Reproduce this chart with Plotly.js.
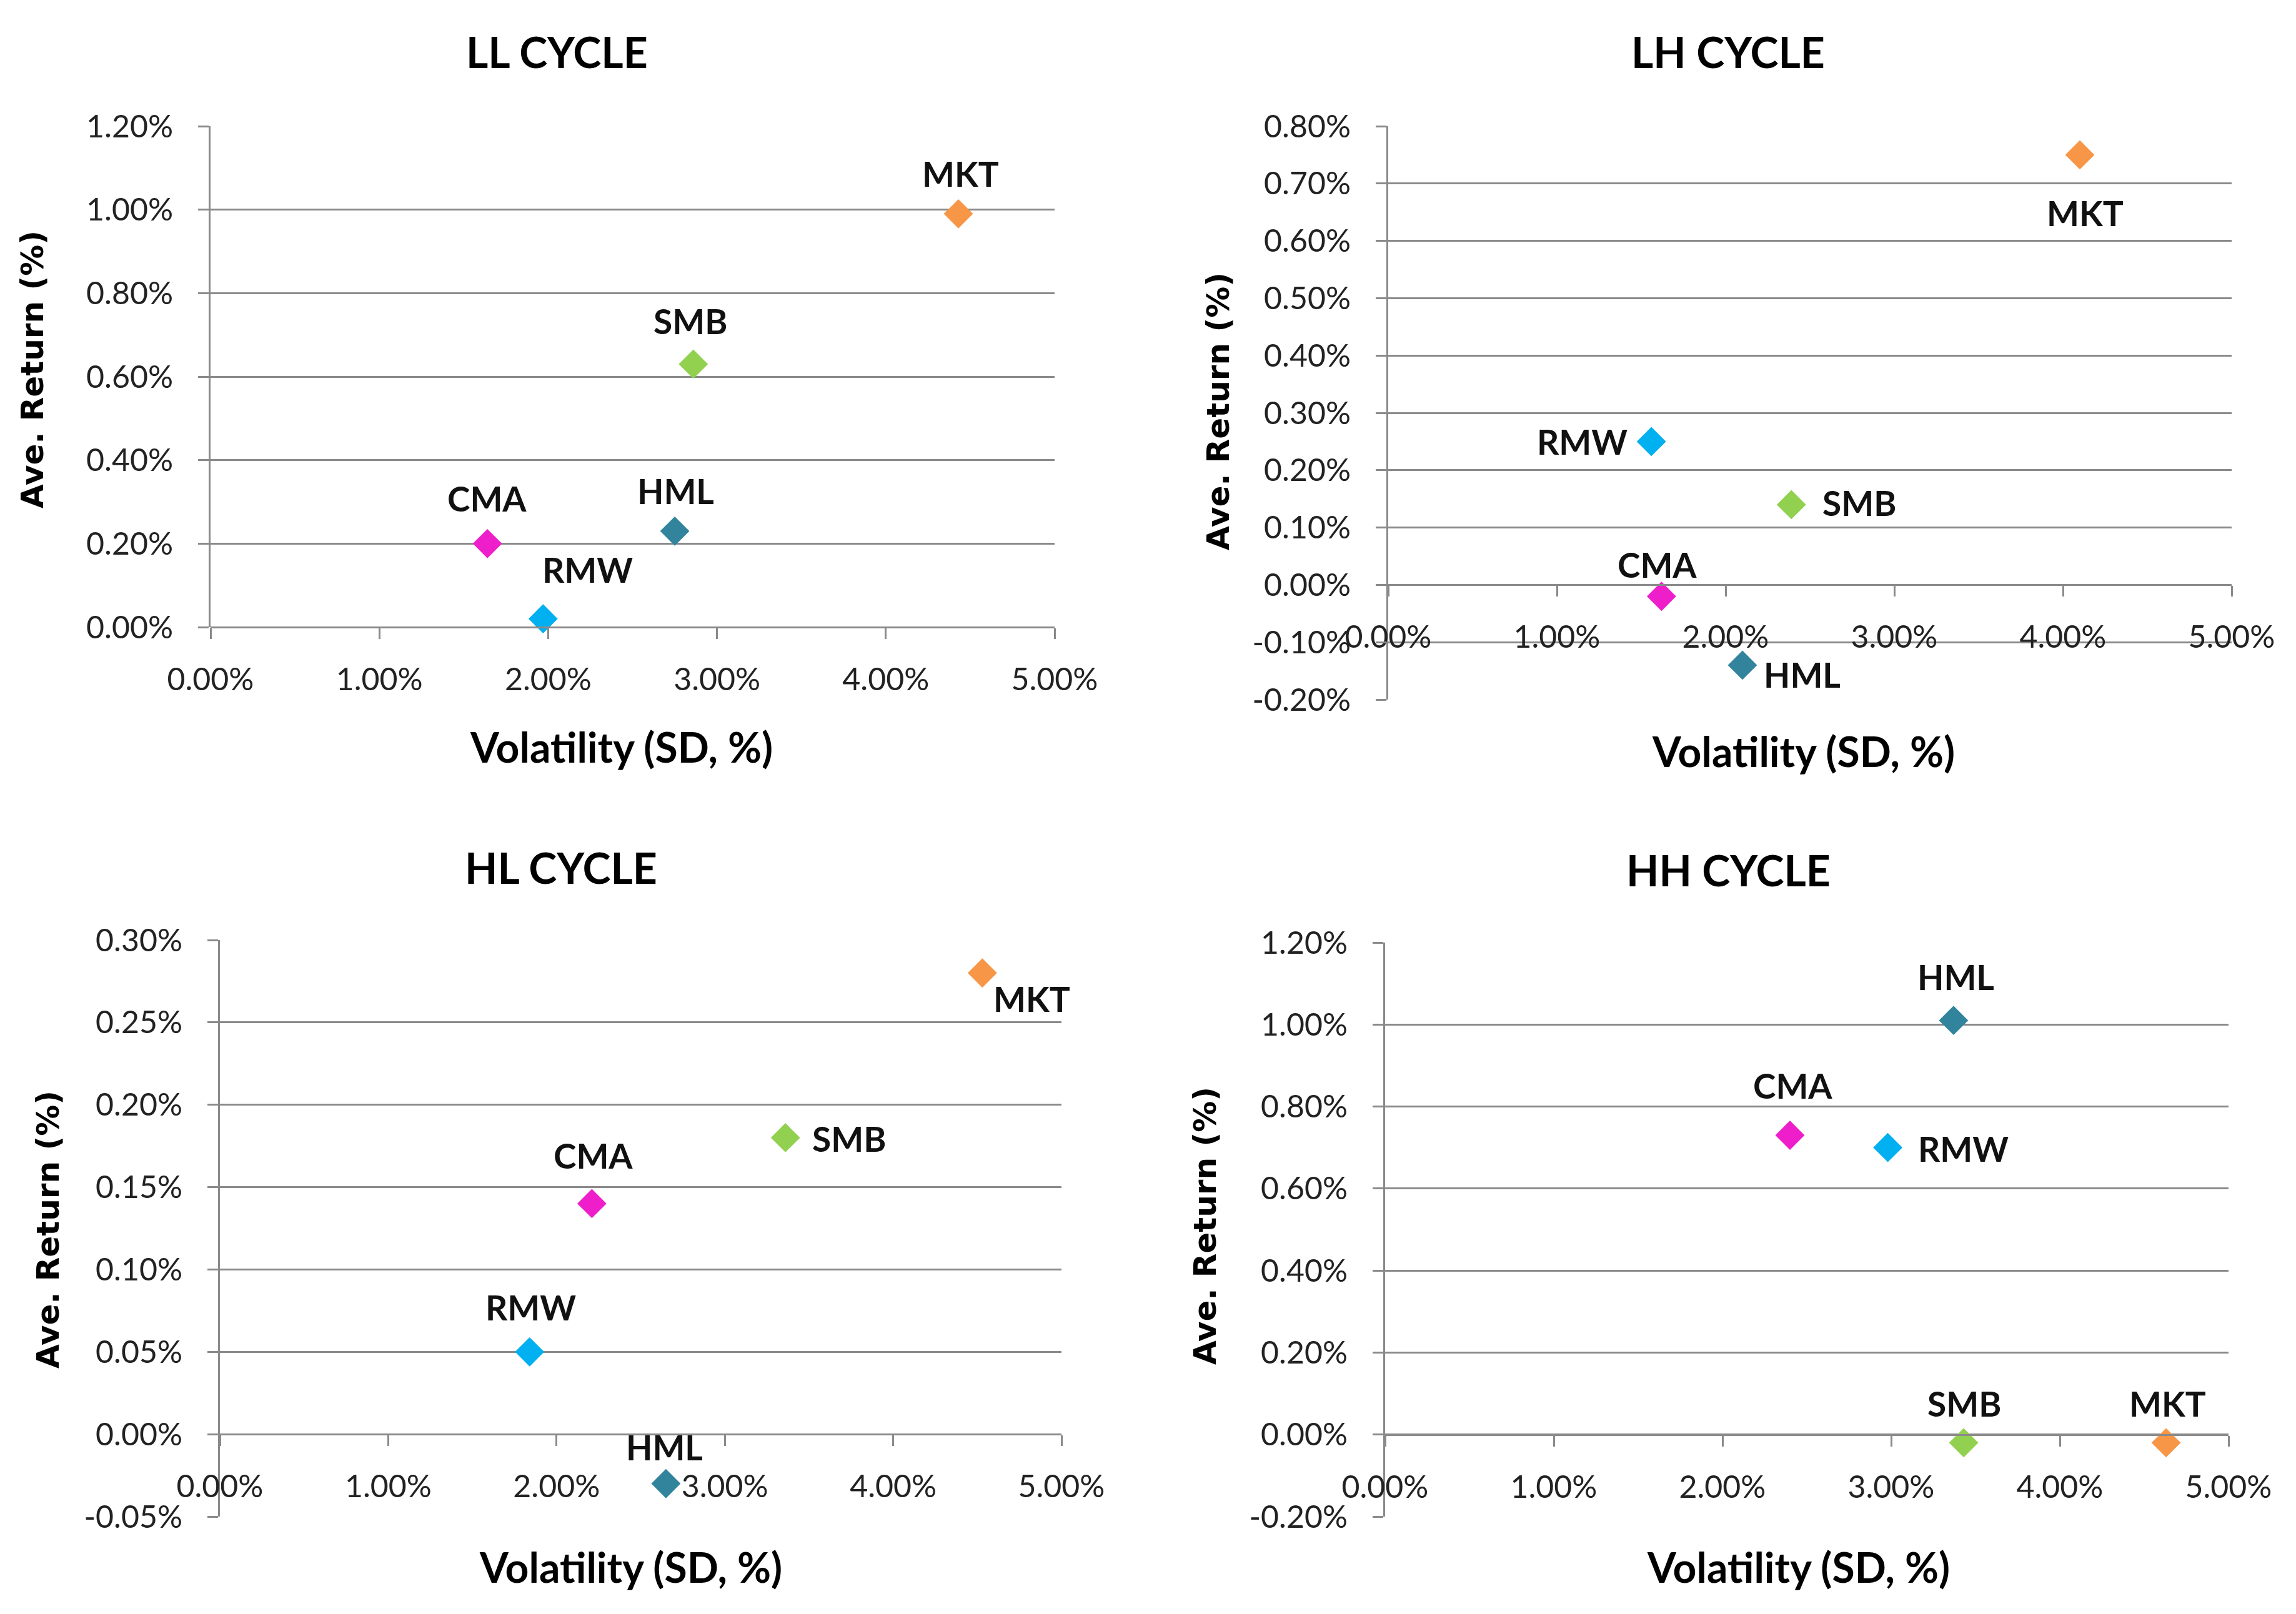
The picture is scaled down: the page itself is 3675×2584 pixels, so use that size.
<!DOCTYPE html>
<html>
<head>
<meta charset="utf-8">
<script src="https://cdn.plot.ly/plotly-3.0.1.min.js"></script>
<style>html,body{margin:0;padding:0;background:#fff;}#chart{width:3675px;height:2584px;}</style>
</head>
<body>
<div id="chart"></div>
<script>
// ---- data ----
const factors = ['MKT', 'SMB', 'HML', 'CMA', 'RMW'];

const LL_vol = [4.43, 2.86, 2.75, 1.64, 1.97];
const LL_ret = [0.99, 0.63, 0.23, 0.20, 0.02];

const LH_vol = [4.10, 2.39, 2.10, 1.62, 1.56];
const LH_ret = [0.75, 0.14, -0.14, -0.02, 0.25];

const HL_vol = [4.53, 3.36, 2.65, 2.21, 1.84];
const HL_ret = [0.28, 0.18, -0.03, 0.14, 0.05];

const HH_vol = [4.63, 3.43, 3.37, 2.40, 2.98];
const HH_ret = [-0.02, -0.02, 1.01, 0.73, 0.70];

const x_ticks = [0, 1, 2, 3, 4, 5];
const x_ticklabels = ['0.00%', '1.00%', '2.00%', '3.00%', '4.00%', '5.00%'];

const LL_yticks = [0, 0.2, 0.4, 0.6, 0.8, 1.0, 1.2];
const LL_yticklabels = ['0.00%', '0.20%', '0.40%', '0.60%', '0.80%', '1.00%', '1.20%'];
const LH_yticks = [-0.2, -0.1, 0, 0.1, 0.2, 0.3, 0.4, 0.5, 0.6, 0.7, 0.8];
const LH_yticklabels = ['-0.20%', '-0.10%', '0.00%', '0.10%', '0.20%', '0.30%', '0.40%', '0.50%', '0.60%', '0.70%', '0.80%'];
const HL_yticks = [-0.05, 0, 0.05, 0.10, 0.15, 0.20, 0.25, 0.30];
const HL_yticklabels = ['-0.05%', '0.00%', '0.05%', '0.10%', '0.15%', '0.20%', '0.25%', '0.30%'];
const HH_yticks = [-0.2, 0, 0.2, 0.4, 0.6, 0.8, 1.0, 1.2];
const HH_yticklabels = ['-0.20%', '0.00%', '0.20%', '0.40%', '0.60%', '0.80%', '1.00%', '1.20%'];

const panelTitles = ['LL CYCLE', 'LH CYCLE', 'HL CYCLE', 'HH CYCLE'];
const xTitle = 'Volatility (SD, %)';
const yTitle = 'Ave. Return (%)';

// ---- style ----
const factorColors = ['#F79646', '#92D050', '#31849B', '#EE1FCB', '#00B0F0'];
const W = 3675, H = 2584;
const gridC = '#8A8A8A';
const tickFont = {family: 'Lato, sans-serif', size: 50, color: '#222'};
const labelFont = {family: 'Lato, sans-serif', size: 55, color: '#111', weight: 700};

// panel geometry in pixels: [left, right, top, bottom]
const geo = [
  [337, 1688, 202, 1004],
  [2222, 3572, 202, 1120],
  [352, 1699, 1505, 2428],
  [2217, 3567, 1509, 2428]
];
const titlePos = [[891, 82], [2766, 82], [898, 1388], [2766, 1392]];
const yTitlePos = [[52, 592], [1950, 659], [77, 1969], [1929, 1962]];
const xTitlePos = [[994, 1195], [2886, 1202], [1010, 2508], [2878, 2508]];

// label offsets (pixels) from marker centre: [dx, dy] with dy downward
const panels = [
  {vol: LL_vol, ret: LL_ret, yt: LL_yticks, ytl: LL_yticklabels,
   off: [[4, -64], [-5, -69], [1, -64], [-1, -72], [71, -79]]},
  {vol: LH_vol, ret: LH_ret, yt: LH_yticks, ytl: LH_yticklabels,
   off: [[8, 93], [109, -3], [95, 15], [-7, -51], [-111, 0]]},
  {vol: HL_vol, ret: HL_ret, yt: HL_yticks, ytl: HL_yticklabels,
   off: [[79, 41], [102, 2], [-2, -58], [2, -77], [2, -71]]},
  {vol: HH_vol, ret: HH_ret, yt: HH_yticks, ytl: HH_yticklabels,
   off: [[2, -63], [1, -63], [4, -70], [4, -80], [121, 2]]}
];

const traces = [];
const layout = {
  width: W, height: H,
  margin: {l: 0, r: 0, t: 0, b: 0},
  paper_bgcolor: '#fff', plot_bgcolor: '#fff',
  showlegend: false,
  annotations: []
};

panels.forEach((p, i) => {
  const n = i === 0 ? '' : String(i + 1);
  const g = geo[i];
  const xd = [g[0] / W, g[1] / W];
  const yd = [1 - g[3] / H, 1 - g[2] / H];
  const ymin = p.yt[0], ymax = p.yt[p.yt.length - 1];
  const zeroPos = yd[0] + (0 - ymin) / (ymax - ymin) * (yd[1] - yd[0]);

  traces.push({
    type: 'scatter', mode: 'markers',
    x: p.vol, y: p.ret, text: factors,
    cliponaxis: false,
    marker: {symbol: 'diamond', size: 36, color: factorColors, line: {width: 0}},
    xaxis: 'x' + n, yaxis: 'y' + n, hoverinfo: 'skip'
  });

  factors.forEach((f, j) => {
    layout.annotations.push({
      text: '<b>' + f + '</b>', xref: 'x' + n, yref: 'y' + n,
      x: p.vol[j], y: p.ret[j],
      xshift: p.off[j][0], yshift: -p.off[j][1],
      xanchor: 'center', yanchor: 'middle', showarrow: false,
      font: labelFont
    });
  });

  layout['xaxis' + n] = {
    domain: xd, range: [0, 5],
    anchor: 'free', position: zeroPos,
    tickmode: 'array', tickvals: x_ticks, ticktext: x_ticklabels,
    showgrid: false, zeroline: false,
    showline: true, linecolor: gridC, linewidth: 3,
    ticks: 'outside', ticklen: 17, tickwidth: 3, tickcolor: gridC,
    tickfont: tickFont, ticklabelstandoff: 22,
    fixedrange: true
  };
  layout['yaxis' + n] = {
    domain: yd, range: [ymin, ymax],
    anchor: 'x' + n,
    tickmode: 'array', tickvals: p.yt, ticktext: p.ytl,
    showgrid: true, gridcolor: gridC, gridwidth: 3,
    zeroline: false,
    showline: true, linecolor: gridC, linewidth: 3,
    ticks: 'outside', ticklen: 17, tickwidth: 3, tickcolor: gridC,
    tickfont: tickFont, ticklabelstandoff: 30,
    fixedrange: true
  };

  layout.annotations.push({
    text: '<b>' + panelTitles[i] + '</b>', xref: 'paper', yref: 'paper',
    x: titlePos[i][0] / W, y: 1 - titlePos[i][1] / H,
    xanchor: 'center', yanchor: 'middle', showarrow: false,
    font: {family: 'Lato, sans-serif', size: 68, color: '#000'}
  });
  layout.annotations.push({
    text: '<b>' + xTitle + '</b>', xref: 'paper', yref: 'paper',
    x: xTitlePos[i][0] / W, y: 1 - xTitlePos[i][1] / H,
    xanchor: 'center', yanchor: 'middle', showarrow: false,
    font: {family: 'Lato, sans-serif', size: 66, color: '#000'}
  });
  layout.annotations.push({
    text: '<b>' + yTitle + '</b>', xref: 'paper', yref: 'paper',
    x: yTitlePos[i][0] / W, y: 1 - yTitlePos[i][1] / H,
    xanchor: 'center', yanchor: 'middle', showarrow: false, textangle: -90,
    font: {family: 'DejaVu Sans, sans-serif', size: 50, color: '#000'}
  });
});

Plotly.newPlot('chart', traces, layout, {staticPlot: true, displayModeBar: false});
</script>
</body>
</html>
